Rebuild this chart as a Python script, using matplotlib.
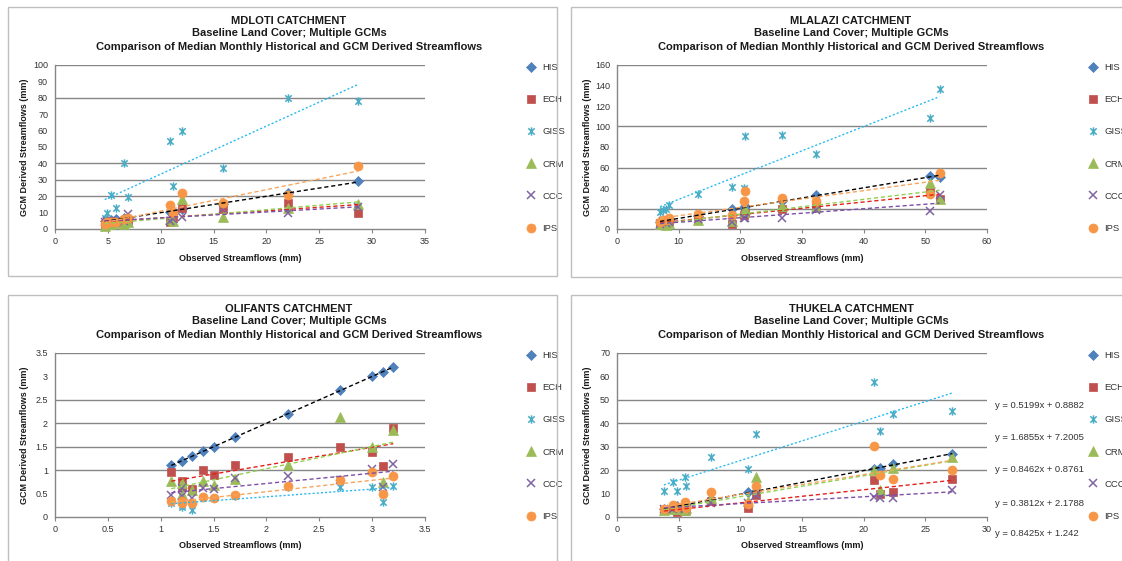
import numpy as np
import matplotlib
matplotlib.use('Agg')
import matplotlib.pyplot as plt
from matplotlib.patches import Rectangle
from matplotlib.path import Path
from matplotlib.ticker import MultipleLocator, FuncFormatter

plt.rcParams['font.family'] = ['Liberation Sans', 'DejaVu Sans']

# ---------------- DATA ----------------
series_names = ['HIS', 'ECH', 'GISS', 'CRM', 'CCC', 'IPS']

# MDLOTI
mdloti_obs = [4.7, 4.9, 5.3, 5.8, 6.5, 6.9, 10.9, 11.2, 12.0, 15.9, 22.0, 28.7]
mdloti_his = [4.7, 5.0, 5.5, 5.8, 6.5, 7.0, 10.5, 11.0, 12.5, 15.0, 22.0, 29.0]
mdloti_ech = [3.0, 4.0, 5.0, 4.0, 4.0, 5.0, 4.5, 7.0, 13.0, 12.0, 16.0, 10.0]
mdloti_giss = [7.0, 9.5, 21.0, 13.0, 40.0, 19.5, 53.5, 26.0, 60.0, 37.5, 80.0, 78.0]
mdloti_crm = [2.0, 3.0, 3.0, 3.5, 3.0, 4.0, 6.0, 5.0, 18.0, 7.5, 13.0, 15.0]
mdloti_ccc = [4.0, 5.0, 5.0, 4.5, 5.0, 9.0, 5.0, 6.0, 7.5, 12.0, 10.0, 13.5]
mdloti_ips = [3.0, 4.0, 4.0, 4.5, 6.0, 7.0, 14.5, 10.0, 22.0, 16.0, 20.5, 38.5]

# MLALAZI
mlalazi_obs = [7.0, 7.4, 8.0, 8.4, 13.2, 18.6, 20.6, 20.8, 26.8, 32.3, 50.7, 52.3]
mlalazi_his = [7.0, 7.5, 8.0, 9.0, 13.0, 19.5, 20.5, 22.0, 27.0, 33.5, 51.5, 51.0]
mlalazi_ech = [6.0, 7.5, 6.0, 8.0, 13.0, 5.0, 14.0, 16.0, 19.5, 23.0, 37.5, 29.5]
mlalazi_giss = [17.0, 18.5, 20.0, 23.0, 34.0, 40.5, 40.0, 90.5, 92.0, 73.0, 108.0, 136.5]
mlalazi_crm = [5.0, 6.5, 4.0, 6.0, 9.0, 8.0, 17.0, 20.0, 22.0, 21.5, 45.0, 29.0]
mlalazi_ccc = [5.0, 7.5, 6.0, 7.0, 10.0, 6.5, 10.5, 11.0, 10.5, 19.0, 17.5, 33.0]
mlalazi_ips = [7.0, 8.5, 9.0, 10.5, 14.5, 14.0, 27.0, 37.5, 30.5, 27.5, 34.0, 55.0]

# OLIFANTS
olifants_obs = [1.1, 1.2, 1.2, 1.3, 1.4, 1.5, 1.7, 2.2, 2.7, 3.0, 3.1, 3.2]
olifants_his = [1.1, 1.2, 1.2, 1.3, 1.4, 1.5, 1.7, 2.2, 2.7, 3.0, 3.1, 3.2]
olifants_ech = [0.95, 0.76, 0.65, 0.60, 1.01, 0.89, 1.11, 1.29, 1.49, 1.39, 1.09, 1.91]
olifants_giss = [0.30, 0.21, 0.25, 0.16, 0.42, 0.40, 0.45, 0.64, 0.63, 0.65, 0.33, 0.67]
olifants_crm = [0.77, 0.73, 0.50, 0.57, 0.77, 0.69, 0.82, 1.11, 2.13, 1.50, 0.74, 1.85]
olifants_ccc = [0.48, 0.62, 0.45, 0.41, 0.62, 0.60, 0.83, 0.88, 0.80, 1.02, 0.65, 1.14]
olifants_ips = [0.34, 0.30, 0.35, 0.29, 0.43, 0.41, 0.48, 0.66, 0.80, 0.95, 0.49, 0.88]

# THUKELA
thukela_obs = [3.8, 4.5, 4.9, 5.5, 5.6, 7.6, 10.6, 11.3, 20.8, 21.3, 22.4, 27.2]
thukela_his = [3.5, 4.0, 4.5, 5.0, 5.5, 7.5, 10.5, 11.0, 20.5, 21.0, 22.5, 27.0]
thukela_ech = [3.0, 3.5, 2.0, 2.5, 3.0, 6.7, 4.0, 9.2, 16.0, 10.0, 10.5, 16.3]
thukela_giss = [11.0, 14.8, 11.0, 16.9, 13.4, 25.5, 20.5, 35.4, 57.5, 36.6, 44.0, 45.4]
thukela_crm = [2.8, 3.5, 3.5, 3.1, 4.0, 8.0, 7.0, 17.0, 20.0, 11.7, 21.0, 25.5]
thukela_ccc = [3.5, 3.5, 4.0, 3.5, 4.0, 6.0, 6.0, 9.5, 8.5, 8.0, 8.0, 11.7]
thukela_ips = [3.6, 5.0, 4.1, 6.4, 4.0, 10.7, 5.7, 13.4, 30.2, 17.8, 16.2, 20.2]
thukela_equations = ['y = 0.5199x + 0.8882', 'y = 1.6855x + 7.2005',
                     'y = 0.8462x + 0.8761', 'y = 0.3812x + 2.1788',
                     'y = 0.8425x + 1.242']

titles = ['MDLOTI CATCHMENT', 'MLALAZI CATCHMENT', 'OLIFANTS CATCHMENT', 'THUKELA CATCHMENT']
subtitle1 = 'Baseline Land Cover; Multiple GCMs'
subtitle2 = 'Comparison of Median Monthly Historical and GCM Derived Streamflows'
xlabel = 'Observed Streamflows (mm)'
ylabel = 'GCM Derived Streamflows (mm)'

# ---------------- STYLE ----------------
W, H = 1122, 561
fig = plt.figure(figsize=(W / 100, H / 100), dpi=100)

star = Path([(-1, -1), (1, 1), (-1, 1), (1, -1), (0, -1.3), (0, 1.3)],
            [Path.MOVETO, Path.LINETO, Path.MOVETO, Path.LINETO, Path.MOVETO, Path.LINETO])

mstyle = {
    'HIS': dict(marker='D', color='#4F81BD', ms=4.8),
    'ECH': dict(marker='s', color='#C0504D', ms=6.0),
    'GISS': dict(marker=star, color='#4BACC6', ms=6.0),
    'CRM': dict(marker='^', color='#9BBB59', ms=6.5),
    'CCC': dict(marker='x', color='#8064A2', ms=5.5),
    'IPS': dict(marker='o', color='#F79646', ms=6.5),
}
tstyle = {
    'HIS': dict(color='#000000', dashes=(3, 2)),
    'ECH': dict(color='#E3201B', dashes=(3, 2)),
    'GISS': dict(color='#2BBAF0', dashes=(1.5, 1.5)),
    'CRM': dict(color='#92D050', dashes=(3, 2)),
    'CCC': dict(color='#7F4FA8', dashes=(3, 2)),
    'IPS': dict(color='#F8A55E', dashes=(3, 2)),
}


def fx(px):
    return px / W


def fy(py):
    return 1 - py / H


def draw_panel(obs, series, box, axpx, xlim, xstep, ylim, ystep, grid_vals,
               title, equations=None):
    bx0, by0, bx1, by1 = box
    fig.add_artist(Rectangle((fx(bx0), fy(by1)), fx(bx1 - bx0), (by1 - by0) / H,
                             transform=fig.transFigure, fill=False,
                             edgecolor='#BFBFBF', lw=1.0))
    l, t, r, b = axpx
    ax = fig.add_axes([fx(l), fy(b), fx(r - l), (b - t) / H])
    ax.set_xlim(*xlim)
    ax.set_ylim(*ylim)
    ax.xaxis.set_major_locator(MultipleLocator(xstep))
    ax.yaxis.set_major_locator(MultipleLocator(ystep))
    fmt = FuncFormatter(lambda v, p: ('%g' % round(v, 3)))
    ax.xaxis.set_major_formatter(fmt)
    ax.yaxis.set_major_formatter(fmt)
    for g in grid_vals:
        ax.axhline(g, color='#868686', lw=1.0, zorder=0.5)
    for s in ['top', 'right']:
        ax.spines[s].set_visible(False)
    for s in ['left', 'bottom']:
        ax.spines[s].set_color('#868686')
        ax.spines[s].set_linewidth(1.0)
    ax.tick_params(axis='both', labelsize=6.5, colors='#868686', labelcolor='#333333',
                   length=3, width=0.8, direction='out', pad=3)
    ax.tick_params(axis='y', length=0, pad=5)
    ax.set_facecolor('none')
    x = np.array(obs, dtype=float)
    handles = []
    for name in series_names:
        y = np.array(series[name], dtype=float)
        st = mstyle[name]
        h, = ax.plot(x, y, linestyle='none', marker=st['marker'], ms=st['ms'],
                     color=st['color'], mfc=st['color'] if name not in ('GISS', 'CCC') else 'none',
                     mec=st['color'], mew=1.1 if name in ('GISS', 'CCC') else 0.5,
                     zorder=3, clip_on=False)
        handles.append(h)
    for name in series_names:
        y = np.array(series[name], dtype=float)
        k, c = np.polyfit(x, y, 1)
        xs = np.array([x.min(), x.max()])
        ts = tstyle[name]
        ax.plot(xs, k * xs + c, color=ts['color'], lw=1.0, dashes=ts['dashes'], zorder=4)
    # titles
    cx = (l + r) / 2 + 49
    for dy, txt in zip((14, 26.5, 39.5), (title, subtitle1, subtitle2)):
        fig.text(fx(cx), fy(by0 + dy), txt, ha='center', va='center', fontsize=8.0,
                 fontweight='bold', color='#1a1a1a')
    # axis labels
    fig.text(fx(bx0 + 17), fy((t + b) / 2), ylabel, rotation=90, ha='center', va='center',
             fontsize=6.5, fontweight='bold', color='#1a1a1a')
    fig.text(fx((l + r) / 2), fy(b + 29), xlabel, ha='center', va='center',
             fontsize=6.5, fontweight='bold', color='#1a1a1a')
    # legend
    ax.legend(handles, series_names, loc='center left',
              bbox_to_anchor=(fx(l + 471), fy((t + b) / 2 + 1)),
              bbox_transform=fig.transFigure, frameon=False, fontsize=6.8,
              labelspacing=2.45, handlelength=1.0, handletextpad=0.7,
              borderpad=0, borderaxespad=0, numpoints=1, labelcolor='#333333')
    if equations:
        ys = [405, 438, 470, 503, 533]
        for eq, yy in zip(equations, ys):
            fig.text(fx(r + 8), fy(yy), eq, ha='left', va='center', fontsize=6.8,
                     color='#333333')
    return ax


draw_panel(mdloti_obs,
           dict(HIS=mdloti_his, ECH=mdloti_ech, GISS=mdloti_giss, CRM=mdloti_crm,
                CCC=mdloti_ccc, IPS=mdloti_ips),
           (8, 7, 557, 276), (55, 65, 425, 229), (0, 35), 5, (0, 100), 10,
           [20, 30, 40, 80, 100], titles[0])

draw_panel(mlalazi_obs,
           dict(HIS=mlalazi_his, ECH=mlalazi_ech, GISS=mlalazi_giss, CRM=mlalazi_crm,
                CCC=mlalazi_ccc, IPS=mlalazi_ips),
           (571, 7, 1125, 277), (617, 65, 987, 229), (0, 60), 10, (0, 160), 20,
           [20, 60, 100, 160], titles[1])

draw_panel(olifants_obs,
           dict(HIS=olifants_his, ECH=olifants_ech, GISS=olifants_giss, CRM=olifants_crm,
                CCC=olifants_ccc, IPS=olifants_ips),
           (8, 295, 557, 564), (55, 353, 425, 517), (0, 3.5), 0.5, (0, 3.5), 0.5,
           [1, 1.5, 2, 2.5, 3.5], titles[2])

draw_panel(thukela_obs,
           dict(HIS=thukela_his, ECH=thukela_ech, GISS=thukela_giss, CRM=thukela_crm,
                CCC=thukela_ccc, IPS=thukela_ips),
           (571, 295, 1125, 564), (617, 353, 987, 517), (0, 30), 5, (0, 70), 10,
           [20, 30, 40, 50, 70], titles[3], equations=thukela_equations)

fig.savefig('out.png', dpi=100, facecolor='white')
